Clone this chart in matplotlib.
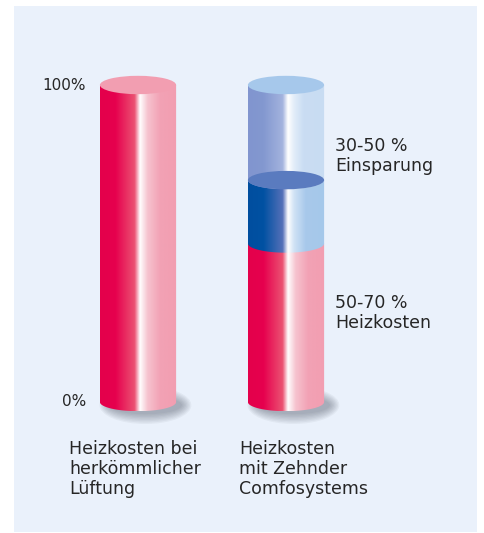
#!/usr/bin/env python3
# coding: utf-8

import numpy as np
import matplotlib
matplotlib.use("Agg")
import matplotlib.pyplot as plt
from matplotlib.patches import Ellipse, PathPatch
from matplotlib.path import Path
from matplotlib.colors import to_rgb

#--- data ---#
categories = ["Heizkosten bei\nherkömmlicher\nLüftung",
              "Heizkosten\nmit Zehnder\nComfosystems"]
left_stack = [100]           # Heizkosten herkömmlich
right_stack = [50, 20, 30]   # Heizkosten, Rest-Heizkosten, Einsparung
tick_values = [0, 100]
tick_labels = ["0%", "100%"]
segment_labels = ["30-50 %\nEinsparung", "50-70 %\nHeizkosten"]

#--- styles ---#
ramps = {
    "red": [(0.0, "#E4004B"), (0.2, "#E6004E"), (0.45, "#EB5272"), (0.52, "#FFFFFF"),
            (0.62, "#F6C3CF"), (0.78, "#F2A2B5"), (1.0, "#F29EB1")],
    "blue": [(0.0, "#004E9F"), (0.2, "#0051A2"), (0.45, "#5570B8"), (0.52, "#FFFFFF"),
             (0.6, "#D0E2F5"), (0.75, "#A8C9EB"), (1.0, "#A5C8EA")],
    "light": [(0.0, "#8195CF"), (0.2, "#8398D0"), (0.45, "#A3B3DE"), (0.52, "#FFFFFF"),
              (0.6, "#E2EDF9"), (0.72, "#CADDF3"), (1.0, "#C8DCF2")],
}
caps = {"red": "#F29EB1", "blue": "#5A7BBF", "light": "#A6C8EB"}
left_styles = ["red"]
right_styles = ["red", "blue", "light"]

bar_width = 0.515
cap_h = 5.8          # full ellipse height in % units
text_color = "#262626"


def gradient_image(ramp, n=300):
    xs = np.linspace(0, 1, n)
    pos = [p for p, _ in ramp]
    cols = np.array([to_rgb(c) for _, c in ramp])
    img = np.stack([np.interp(xs, pos, cols[:, k]) for k in range(3)], axis=-1)
    return img[np.newaxis, :, :]


def draw_body(ax, xc, y0, y1, style, z):
    xl, xr = xc - bar_width / 2, xc + bar_width / 2
    t = np.linspace(np.pi, 2 * np.pi, 60)
    ex = xc + bar_width / 2 * np.cos(t)
    ey = y0 + cap_h / 2 * np.sin(t)
    verts = [(xl, y1)] + list(zip(ex, ey)) + [(xr, y1), (xl, y1)]
    codes = [Path.MOVETO] + [Path.LINETO] * (len(verts) - 2) + [Path.CLOSEPOLY]
    clip = PathPatch(Path(verts, codes), facecolor="none", edgecolor="none",
                     transform=ax.transData)
    ax.add_patch(clip)
    im = ax.imshow(gradient_image(ramps[style]), extent=[xl, xr, y0 - cap_h / 2, y1],
                   aspect="auto", interpolation="bilinear", zorder=z)
    im.set_clip_path(clip)


def draw_shadow(ax, xc):
    # soft blurred shadow, offset to the lower right
    for i in range(8):
        ax.add_patch(Ellipse((xc + 0.05, -1.0), bar_width * (0.96 + 0.035 * i),
                             cap_h * (1.0 + 0.15 * i), facecolor="#3a4150",
                             edgecolor="none", alpha=0.055, zorder=1))


def draw_cylinder(ax, xc, stack, styles):
    draw_shadow(ax, xc)
    bounds = np.concatenate([[0], np.cumsum(stack)])
    for i, style in enumerate(styles):
        draw_body(ax, xc, bounds[i], bounds[i + 1], style, 2 + i)
    # caps of the inner segments are seen through the upper transparent part
    for i, style in enumerate(styles):
        if i == len(styles) - 1 or style != "red":
            ax.add_patch(Ellipse((xc, bounds[i + 1]), bar_width, cap_h,
                                 facecolor=caps[style], edgecolor="none", zorder=10 + i))


def main():
    fig = plt.figure(figsize=(4.84, 5.33), dpi=100)
    fig.patch.set_facecolor("white")

    # light blue panel behind everything
    bg = fig.add_axes([14 / 484, 1 / 533, 463 / 484, 526 / 533], zorder=-5)
    bg.set_facecolor("#EAF1FB")
    bg.set_xticks([])
    bg.set_yticks([])
    for s in bg.spines.values():
        s.set_visible(False)

    ax = fig.add_axes([64 / 484, (533 - 433.7) / 533, 296 / 484, 380.4 / 533], zorder=1)
    ax.set_facecolor("none")

    draw_cylinder(ax, 0, left_stack, left_styles)
    draw_cylinder(ax, 1, right_stack, right_styles)

    # y labels
    for v, lab in zip(tick_values, tick_labels):
        ax.text(-bar_width / 2 - 0.095, v, lab, ha="right", va="center",
                fontsize=11, color=text_color)

    # segment labels
    ax.text(1 + bar_width / 2 + 0.073, 83.5, segment_labels[0], ha="left", va="top",
            fontsize=12.5, color=text_color, linespacing=1.15)
    ax.text(1 + bar_width / 2 + 0.073, 34.0, segment_labels[1], ha="left", va="top",
            fontsize=12.5, color=text_color, linespacing=1.15)

    # category labels
    ax.text(-0.466, -12.0, categories[0], ha="left", va="top",
            fontsize=12.5, color=text_color, linespacing=1.15)
    ax.text(0.682, -12.0, categories[1], ha="left", va="top",
            fontsize=12.5, color=text_color, linespacing=1.15)

    ax.set_xlim(-0.5, 1.5)
    ax.set_ylim(-10, 110)
    ax.axis("off")

    fig.savefig("out.png", dpi=100)


if __name__ == "__main__":
    main()
